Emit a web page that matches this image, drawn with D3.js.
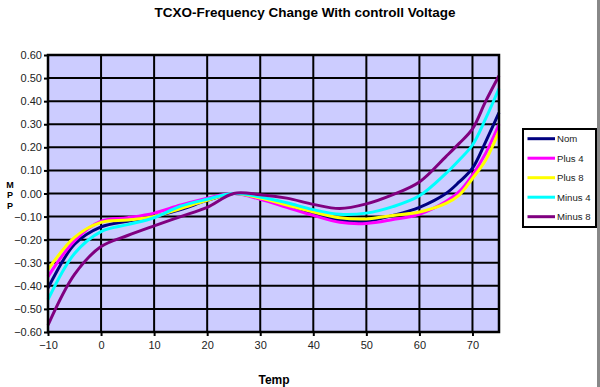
<!DOCTYPE html>
<html><head><meta charset="utf-8">
<script src="https://cdn.jsdelivr.net/npm/d3@7"></script>
<style>body{margin:0;background:#fff}svg{display:block}</style>
</head><body><svg id="c" width="600" height="387"></svg>
<script>
const temps   = [-10,-5,0,5,10,15,20,25,30,35,40,45,50,55,60,65,67.5,70,72.5,75];
const nom     = [-0.41,-0.22,-0.145,-0.12,-0.10,-0.07,-0.03,0.0,-0.02,-0.05,-0.085,-0.115,-0.12,-0.095,-0.06,0.0,0.05,0.11,0.225,0.35];
const plus4   = [-0.36,-0.205,-0.12,-0.105,-0.085,-0.05,-0.02,0.0,-0.025,-0.06,-0.095,-0.125,-0.13,-0.113,-0.09,-0.035,0.008,0.08,0.175,0.30];
const plus8   = [-0.33,-0.19,-0.125,-0.115,-0.10,-0.065,-0.03,0.0,-0.02,-0.05,-0.08,-0.105,-0.11,-0.095,-0.08,-0.043,-0.007,0.065,0.145,0.27];
const minus4  = [-0.46,-0.26,-0.165,-0.135,-0.105,-0.055,-0.025,0.0,-0.015,-0.04,-0.07,-0.09,-0.085,-0.057,-0.01,0.087,0.145,0.21,0.325,0.455];
const minus8  = [-0.57,-0.35,-0.23,-0.182,-0.14,-0.10,-0.06,0.0,-0.005,-0.02,-0.047,-0.065,-0.045,-0.005,0.05,0.16,0.217,0.28,0.40,0.51];
const seriesNames = ["Nom","Plus 4","Plus 8","Minus 4","Minus 8"];
const seriesData  = [nom, plus4, plus8, minus4, minus8];
const colors = ["#000080","#FF00FF","#FFFF00","#00FFFF","#800080"];
const xTicks = [-10,0,10,20,30,40,50,60,70];
const yTicks = [-0.6,-0.5,-0.4,-0.3,-0.2,-0.1,0,0.1,0.2,0.3,0.4,0.5,0.6];

const svg = d3.select("#c");
const L=48, R=499, T=55, B=332;
const x = d3.scaleLinear().domain([-10,75]).range([L,R]);
const y = d3.scaleLinear().domain([-0.6,0.6]).range([B,T]);
const font = "'Liberation Sans', Arial, sans-serif";

svg.append("text").attr("x",305).attr("y",17).attr("text-anchor","middle")
  .attr("font-family",font).attr("font-weight","bold").attr("font-size",13.5).text("TCXO-Frequency Change With controll Voltage");

svg.append("rect").attr("x",L).attr("y",T).attr("width",R-L).attr("height",B-T).attr("fill","#CCCCFF");

const g = svg.append("g");
g.selectAll(".hg").data(yTicks).join("line").attr("x1",L).attr("x2",R)
  .attr("y1",d=>y(d)).attr("y2",d=>y(d)).attr("stroke","#000").attr("stroke-width",2);
g.selectAll(".vg").data(xTicks).join("line").attr("y1",T).attr("y2",B)
  .attr("x1",d=>x(d)).attr("x2",d=>x(d)).attr("stroke","#000").attr("stroke-width",2);

const line = d3.line().x(d=>x(d[0])).y(d=>y(d[1])).curve(d3.curveCatmullRom.alpha(0.5));
seriesData.forEach((s,i)=>{
  svg.append("path").attr("d",line(temps.map((t,j)=>[t,s[j]])))
    .attr("fill","none").attr("stroke",colors[i]).attr("stroke-width",3).attr("stroke-linejoin","round");
});

svg.append("rect").attr("x",L).attr("y",T).attr("width",R-L).attr("height",B-T)
  .attr("fill","none").attr("stroke","#000").attr("stroke-width",2.5);

const xAxis = d3.axisBottom(x).tickValues(xTicks).tickSize(4).tickSizeOuter(0).tickFormat(d3.format("d"));
const xa = svg.append("g").attr("transform",`translate(0,${B})`).call(xAxis);
xa.select(".domain").remove();
xa.selectAll("line").attr("stroke","#000").attr("stroke-width",2);
xa.selectAll("text").attr("font-family",font).attr("font-size",11).attr("fill","#222").attr("dy","0.95em");

const yAxis = d3.axisLeft(y).tickValues(yTicks).tickSize(4).tickSizeOuter(0).tickFormat(d3.format(".2f"));
const ya = svg.append("g").attr("transform",`translate(${L},0)`).call(yAxis);
ya.select(".domain").remove();
ya.selectAll("line").attr("stroke","#000").attr("stroke-width",2);
ya.selectAll("text").attr("font-family",font).attr("font-size",11).attr("fill","#222").attr("x",-6);

svg.append("text").attr("x",274).attr("y",384).attr("text-anchor","middle")
  .attr("font-family",font).attr("font-weight","bold").attr("font-size",12).text("Temp");
["M","P","P"].forEach((ch,i)=>svg.append("text").attr("font-family",font).attr("font-weight","bold")
  .attr("font-size",9).attr("text-anchor","middle").attr("x",10).attr("y",188+i*10.4).text(ch));

const lg = svg.append("g");
lg.append("rect").attr("x",523).attr("y",129).attr("width",73).attr("height",98).attr("fill","#fff").attr("stroke","#000").attr("stroke-width",2);
seriesNames.forEach((n,i)=>{
  const yy = 138.7 + i*19.5;
  lg.append("line").attr("x1",527.5).attr("x2",555).attr("y1",yy).attr("y2",yy).attr("stroke",colors[i]).attr("stroke-width",3);
  lg.append("text").attr("x",557).attr("y",yy).attr("dy","0.35em").attr("font-family",font).attr("font-size",9.6).attr("fill","#222").text(n);
});

svg.append("rect").attr("x",597).attr("y",0).attr("width",3).attr("height",387).attr("fill","#888");
</script></body></html>
